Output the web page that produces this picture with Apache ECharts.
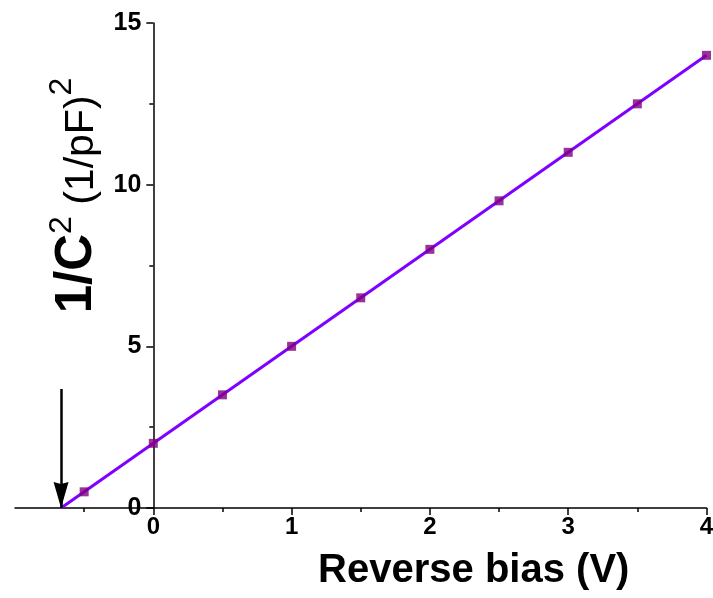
<!DOCTYPE html>
<html>
<head>
<meta charset="utf-8">
<script src="https://cdn.jsdelivr.net/npm/echarts@6/dist/echarts.min.js"></script>
<style>
html,body{margin:0;padding:0;background:#fff;}
#chart{width:713px;height:598px;}
</style>
</head>
<body>
<div id="chart"></div>
<script>
// Data
var biasV = [-0.5, 0, 0.5, 1, 1.5, 2, 2.5, 3, 3.5, 4];
var invC2 = [0.5, 2, 3.5, 5, 6.5, 8, 9.5, 11, 12.5, 14];
var fitX = [-0.667, 4];
var fitY = [0, 14];
var arrowX = [-0.667, -0.667];
var arrowY = [3.68, 0];
var xTicks = [0, 1, 2, 3, 4];
var yTicks = [0, 5, 10, 15];

var FONT = '"Liberation Sans", Arial, sans-serif';
var GRID_LEFT = 15, GRID_RIGHT = 6.5, W = 713;
var X_MIN = -1, X_MAX = 4;
// y axis sits at x = 0 : offset computed through the same linear mapping as the grid
var yAxisShift = (0 - X_MIN) / (X_MAX - X_MIN) * (W - GRID_LEFT - GRID_RIGHT);

var chart = echarts.init(document.getElementById('chart'));
chart.setOption({
  backgroundColor: '#ffffff',
  animation: false,
  grid: {left: GRID_LEFT, right: GRID_RIGHT, top: 23, bottom: 90, containLabel: false, outerBoundsMode: 'none'},
  xAxis: {
    type: 'value', min: X_MIN, max: X_MAX, interval: 1,
    axisLine: {show: true, onZero: false, lineStyle: {color: '#000', width: 1.5}},
    axisTick: {show: true, inside: false, length: 7, customValues: xTicks, lineStyle: {color: '#000', width: 1.5}},
    minorTick: {show: true, splitNumber: 2, length: 4, lineStyle: {color: '#000', width: 1.5}},
    axisLabel: {customValues: xTicks, margin: 7, color: '#000', fontSize: 24, fontWeight: 'bold', fontFamily: FONT},
    splitLine: {show: false},
    name: 'Reverse bias (V)', nameLocation: 'middle', nameGap: 43,
    nameTextStyle: {color: '#000', fontSize: 40, fontWeight: 'bold', fontFamily: FONT, padding: [0, 0, 0, 226]}
  },
  yAxis: {
    type: 'value', min: 0, max: 15, interval: 5,
    offset: -yAxisShift,
    axisLine: {show: true, onZero: false, lineStyle: {color: '#000', width: 1.5}},
    axisTick: {show: true, inside: false, length: 7, customValues: yTicks, lineStyle: {color: '#000', width: 1.5}},
    minorTick: {show: true, splitNumber: 2, length: 4, lineStyle: {color: '#000', width: 1.5}},
    axisLabel: {customValues: yTicks, margin: 12, color: '#000', fontSize: 25, fontWeight: 'bold', fontFamily: FONT},
    splitLine: {show: false},
    name: '{b|1/C}{s|2}{r| (1/pF)}{s|2}',
    nameLocation: 'middle', nameGap: 41, nameRotate: 90,
    nameTextStyle: {
      color: '#000', fontFamily: FONT, padding: [0, 0, 0, 140],
      rich: {
        b: {fontSize: 51, fontWeight: 'bold', fontFamily: FONT, color: '#000', verticalAlign: 'bottom'},
        r: {fontSize: 41, fontFamily: FONT, color: '#000', verticalAlign: 'bottom'},
        s: {fontSize: 32, fontFamily: FONT, color: '#000', verticalAlign: 'bottom', padding: [0, 0, 24, 0]}
      }
    }
  },
  series: [
    {
      type: 'line', data: fitX.map(function (x, i) { return [x, fitY[i]]; }),
      symbol: 'none', lineStyle: {color: '#8000FF', width: 3}, z: 2, silent: true,
      markLine: {
        silent: true,
        symbol: ['none', 'path://M50,100 L100,200 L50,192 L0,200 Z M50,0 L50,0'],
        symbolSize: [15, 52],
        label: {show: false},
        itemStyle: {color: '#000'},
        lineStyle: {color: '#000', width: 2.5, type: 'solid'},
        data: [[{coord: [arrowX[0], arrowY[0]]}, {coord: [arrowX[1], arrowY[1]]}]]
      }
    },
    {
      type: 'scatter', data: biasV.map(function (x, i) { return [x, invC2[i]]; }),
      symbol: 'rect', symbolSize: 9, itemStyle: {color: '#800080'}, z: 4, clip: false
    }
  ]
});
</script>
</body>
</html>
